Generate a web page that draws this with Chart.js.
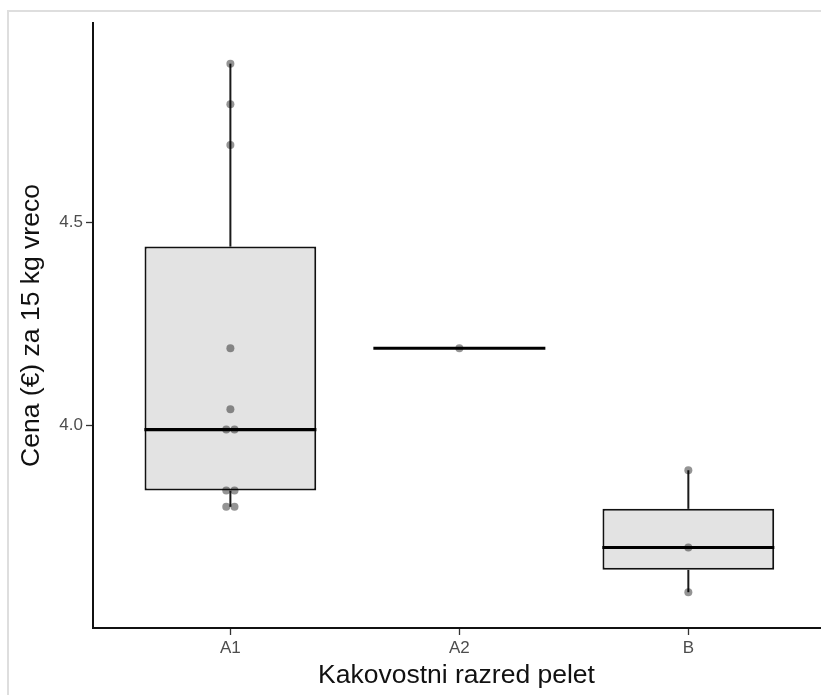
<!DOCTYPE html>
<html>
<head>
<meta charset="utf-8">
<script src="https://cdn.jsdelivr.net/npm/chart.js@4/dist/chart.umd.min.js"></script>
<style>
  html, body { margin: 0; padding: 0; background: #fff; }
  #wrap { position: relative; width: 821px; height: 695px; overflow: hidden; }
  #frame { position: absolute; left: 7px; top: 10px; width: 900px; height: 800px;
           border-left: 2px solid #dedede; border-top: 2px solid #dedede; }
  canvas { position: absolute; left: 0; top: 0; }
</style>
</head>
<body>
<div id="wrap">
  <div id="frame"></div>
  <canvas id="grafica" width="821" height="695"></canvas>
</div>
<script>
// Kategorije (razredi) in cene, odčitane s slike
const razredi = ["A1", "A2", "B"];
const cenaA1 = [4.89, 4.79, 4.69, 4.19, 4.04, 3.99, 3.99, 3.84, 3.84, 3.80, 3.80];
const cenaA2 = [4.19];
const cenaB = [3.89, 3.70, 3.59];
// vodoravni "jitter" točk (v enotah kategorije)
const jitterA1 = [0, 0, 0, 0, 0, -0.018, 0.018, -0.018, 0.018, -0.018, 0.018];
const jitterA2 = [0];
const jitterB = [0, 0, 0];
// oznake na osi y
const yOznake = [4.0, 4.5];

const skupine = [cenaA1, cenaA2, cenaB];
const jitterji = [jitterA1, jitterA2, jitterB];

// kvantil (tip 7, kot v R)
function kvantil(arr, p) {
    const s = [...arr].sort((a, b) => a - b);
    const h = (s.length - 1) * p;
    const lo = Math.floor(h);
    return s[lo] + (h - lo) * ((s[Math.min(lo + 1, s.length - 1)]) - s[lo]);
}

const skatle = [], mediane = [], brki = [], tocke = [];
skupine.forEach((vals, i) => {
    const x = i + 1;
    const q1 = kvantil(vals, 0.25), med = kvantil(vals, 0.5), q3 = kvantil(vals, 0.75);
    const iqr = q3 - q1;
    const spodaj = Math.min(...vals.filter(v => v >= q1 - 1.5 * iqr));
    const zgoraj = Math.max(...vals.filter(v => v <= q3 + 1.5 * iqr));
    if (q3 > q1) skatle.push({ x: x, y: [q1, q3] });
    mediane.push({ x: x, y: med });
    if (zgoraj > q3) brki.push({ x: x, y: [q3, zgoraj] });
    if (spodaj < q1) brki.push({ x: x, y: [spodaj, q1] });
    vals.forEach((v, j) => tocke.push({ x: x + jitterji[i][j], y: v }));
});

const $grafica = document.querySelector("#grafica");
new Chart($grafica, {
    type: 'bar',
    data: {
        datasets: [
            {
                type: 'scatter',
                data: tocke,
                backgroundColor: 'rgba(0,0,0,0.42)',
                borderWidth: 0,
                pointRadius: 4,
                order: 0
            },
            {
                type: 'scatter',
                data: mediane,
                pointStyle: 'line',
                pointRadius: 86,
                borderColor: '#000',
                borderWidth: 3.2,
                order: 1
            },
            {
                data: skatle,
                backgroundColor: '#e3e3e3',
                borderColor: '#111',
                borderWidth: 2,
                borderSkipped: false,
                grouped: false,
                categoryPercentage: 1,
                barPercentage: 0.75,
                order: 2
            },
            {
                data: brki,
                backgroundColor: '#1a1a1a',
                borderWidth: 0,
                grouped: false,
                maxBarThickness: 2,
                order: 3
            }
        ]
    },
    options: {
        responsive: false,
        animation: false,
        layout: { autoPadding: false, padding: { left: 12, top: 23, right: 1, bottom: 0 } },
        plugins: { legend: { display: false }, tooltip: { enabled: false } },
        scales: {
            x: {
                type: 'linear',
                min: 0.4,
                max: 3.575,
                offset: false,
                afterBuildTicks: (axis) => { axis.ticks = razredi.map((r, i) => ({ value: i + 1 })); },
                afterFit: (axis) => { axis.height = 67; },
                grid: { drawOnChartArea: false, offset: false, tickLength: 7, tickColor: '#333', tickWidth: 1.3 },
                border: { color: '#111', width: 2 },
                ticks: {
                    padding: 3,
                    color: '#4d4d4d',
                    font: { family: 'Liberation Sans, Arial', size: 17 },
                    callback: (v) => razredi[Math.round(v) - 1] || ''
                },
                title: {
                    display: true,
                    text: 'Kakovostni razred pelet',
                    color: '#111',
                    font: { family: 'Liberation Sans, Arial', size: 26.5 },
                    padding: { top: 0, bottom: 3 }
                }
            },
            y: {
                min: 3.502,
                max: 4.99,
                afterBuildTicks: (axis) => { axis.ticks = yOznake.map(v => ({ value: v })); },
                afterFit: (axis) => { axis.width = 81; },
                grid: { drawOnChartArea: false, tickLength: 7, tickColor: '#333', tickWidth: 1.3 },
                border: { color: '#111', width: 2 },
                ticks: {
                    padding: 3,
                    color: '#4d4d4d',
                    font: { family: 'Liberation Sans, Arial', size: 17 },
                    callback: (v) => v.toFixed(1)
                },
                title: {
                    display: true,
                    text: 'Cena (€) za 15 kg vreco',
                    color: '#111',
                    font: { family: 'Liberation Sans, Arial', size: 26.5 },
                    padding: { top: 4, bottom: 0 }
                }
            }
        }
    }
});
</script>
</body>
</html>
